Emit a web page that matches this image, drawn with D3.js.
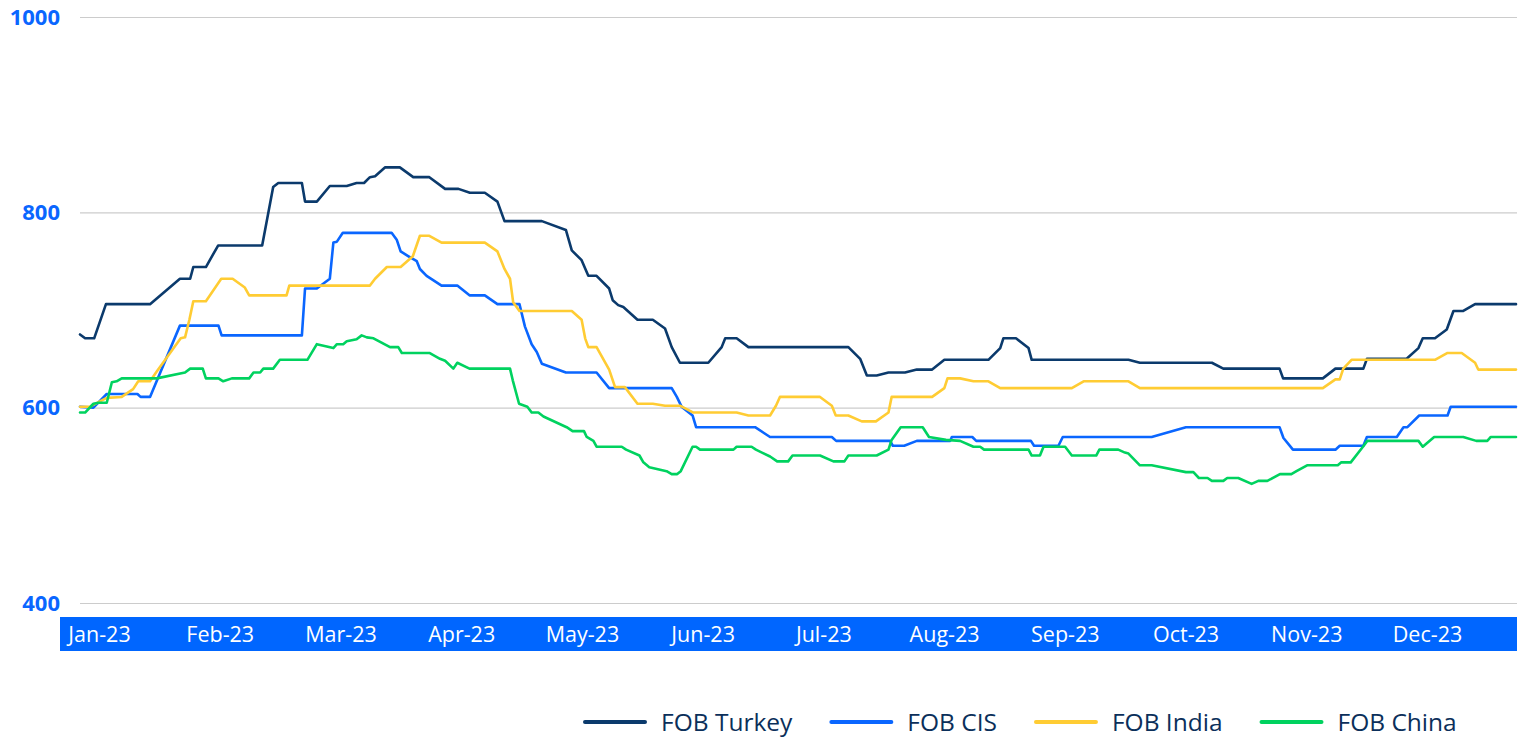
<!DOCTYPE html>
<html>
<head>
<meta charset="utf-8">
<script src="https://cdn.jsdelivr.net/npm/d3@7"></script>
<style>
  html, body { margin: 0; padding: 0; background: #ffffff; }
  svg { display: block; font-family: "Open Sans", Lato, sans-serif; }
</style>
</head>
<body>
<svg id="chart" width="1526" height="737"></svg>
<script>
// ---------- DATA ----------
const months = ["Jan-23","Feb-23","Mar-23","Apr-23","May-23","Jun-23","Jul-23","Aug-23","Sep-23","Oct-23","Nov-23","Dec-23"];
const yTicks = [400, 600, 800, 1000];
const seriesNames = ["FOB Turkey", "FOB CIS", "FOB India", "FOB China"];

// [day of year (0 = 1 Jan 2023), price]
const turkey = [[0,675],[1.3,671],[3.6,671],[6.6,706],[17.8,706],[25.4,732],[28,732],[28.8,744],[32,744],[35.1,766],[46.3,766],[49.1,826],[50.4,830],[56.4,830],[57.2,811],[60.2,811],[63.5,827],[67.8,827],[70.3,830],[72.2,830],[73.7,836],[75,837],[77.5,846],[81.3,846],[84.7,836],[88.8,836],[92.8,824],[96.2,824],[99.1,820],[102.9,820],[106.1,811],[107.9,791],[117.4,791],[123.5,782],[125,761],[127.5,751],[129.2,735],[131.3,735],[134.5,722],[135.4,710],[136.8,705],[138.1,703],[141.7,690],[145.6,690],[148.7,681],[150.4,662],[152.5,646],[159.7,646],[163.1,662],[164,671],[166.9,671],[169.9,662],[195.3,662],[198.3,650],[200,633],[202.5,633],[205.5,636],[209.7,636],[212.7,639],[216.6,639],[219.7,649],[230.9,649],[233.9,661],[234.7,671],[237.9,671],[241.1,661],[241.9,649],[266.5,649],[269.4,646],[287.7,646],[290.6,640],[304.9,640],[305.8,630],[315.9,630],[319.1,640],[326.2,640],[327.1,650],[337.2,650],[340.2,661],[341.3,671],[344.4,671],[347.4,680],[349.1,699],[351.6,699],[354.6,706],[365,706]];

const cis = [[0,601],[3.4,600],[6.8,614],[14.6,614],[15.4,611],[17.8,611],[25.4,684],[35.2,684],[36,674],[56.4,674],[57.2,722],[60.2,722],[63.5,732],[64.4,769],[65.3,770],[66.8,779],[79.2,779],[80.5,772],[81.5,760],[83.5,755],[85.6,750],[86.4,742],[88.1,735],[91.9,725],[95.9,725],[99,715],[102.9,715],[106.1,706],[111.7,706],[113.1,683],[114.8,665],[116.1,657],[117.4,645],[123.5,636],[131.3,636],[134.5,620],[150.4,620],[151.7,611],[152.9,601],[155.7,592],[156.6,580],[171.6,580],[175.4,570],[191.1,570],[192.2,566],[205.9,566],[206.6,561],[209.5,561],[212.7,566],[221.2,566],[221.6,570],[226.8,570],[227.8,566],[241.7,566],[242.5,561],[248.7,561],[249.8,570],[272.4,570],[281.1,580],[304.9,580],[305.9,569],[308.3,557],[319.1,557],[320.2,561],[326.2,561],[327.1,570],[334.7,570],[336.4,580],[337.4,580],[340.4,592],[347.6,592],[348.4,601],[365,601]];

const india = [[0,601],[2.5,601],[6.8,610],[10.6,611],[13.5,619],[14.8,627],[17.8,627],[19.5,637],[25.6,671],[26.7,672],[27.8,690],[28.8,709],[32,709],[35.9,732],[38.8,732],[41.9,723],[43,715],[52.5,715],[53.2,725],[73.7,725],[75,732],[78,744],[81.5,744],[84.6,755],[86.4,776],[88.8,776],[91.9,769],[102.9,769],[106.1,760],[107.9,742],[109.3,732],[110.1,708],[111.7,699],[125,699],[127.5,690],[128.4,671],[129.2,662],[131.3,662],[134.5,639],[136,621],[138.5,621],[141.7,604],[145.6,604],[148.7,602],[152.5,602],[155.9,595],[166.9,595],[169.9,592],[175.4,592],[176.9,602],[177.9,611],[188.1,611],[191.1,602],[192.1,592],[195.3,592],[198.7,586],[202.3,586],[205.5,595],[206.3,611],[216.6,611],[219.7,620],[220.5,630],[223.7,630],[227.1,627],[230.9,627],[233.9,620],[252.1,620],[255.1,627],[266.5,627],[269.4,620],[315.9,620],[319.1,629],[320.2,629],[321.1,640],[323.2,649],[344.4,649],[347.6,656],[351.2,656],[354.6,646],[355.4,639],[365,639]];

const china = [[0,595],[1.3,595],[3.4,604],[4.7,605],[6.8,605],[8.1,626],[9.3,627],[10.6,630],[19.5,630],[26.7,636],[28,640],[31.2,640],[32,630],[35.2,630],[36.4,627],[38.6,630],[43,630],[44.1,636],[45.8,636],[46.6,640],[49.1,640],[50.8,649],[57.8,649],[60.2,665],[64.4,661],[65.3,665],[66.9,665],[67.8,668],[70.3,670],[71.6,674],[72.9,672],[74.6,671],[78.8,662],[80.9,662],[81.8,656],[88.8,656],[91.5,650],[92.8,648],[94.9,640],[95.9,646],[99,640],[109.3,640],[110,628],[111.6,604],[113.7,601],[114.8,595],[116.5,595],[117.8,591],[123.7,580],[125.2,576],[128.1,576],[128.8,570],[130.5,566],[131.3,560],[137.7,560],[138.8,557],[142.2,551],[143.2,544],[144.7,539],[149.1,535],[150.4,532],[151.8,532],[152.7,535],[155.7,560],[156.6,560],[157.6,557],[166.1,557],[166.9,560],[170.7,560],[171.8,557],[175.4,550],[177.2,545],[180,545],[181.1,551],[188.1,551],[191.5,545],[194.3,545],[195.3,551],[202.5,551],[205.5,557],[206.3,567],[208.6,580],[214.2,580],[215.8,570],[220.1,567],[223.7,566],[227.1,560],[228.8,560],[229.8,557],[241.1,557],[241.9,551],[244,551],[244.9,560],[250.4,560],[252.1,551],[258.3,551],[259.1,557],[263.9,557],[265.6,554],[266.5,553],[269.4,541],[272.4,541],[281.1,534],[283,534],[284.4,528],[286.6,528],[287.7,525],[290.6,525],[291.6,528],[294.4,528],[297.8,522],[299.5,525],[301.8,525],[305,532],[307.9,532],[309.2,535],[311.9,541],[319.7,541],[320.6,544],[323,544],[326.1,560],[327.2,566],[340.2,566],[341.3,560],[344.2,570],[351.6,570],[354.9,566],[357.7,566],[358.6,570],[365,570]];

const colors = ["#0b3a6c", "#0a66ff", "#ffcc33", "#00d25f"];

// ---------- CHART ----------
const svg = d3.select("#chart");
const start = new Date(2023, 0, 1);
const dayToDate = d => new Date(start.getTime() + d * 864e5);

const x = d3.scaleTime().domain([start, dayToDate(365)]).range([80, 1516]);
const y = d3.scaleLinear().domain([400, 1000]).range([603, 17]);

// grid + y labels
const yAxis = svg.append("g")
  .attr("transform", "translate(80,0)")
  .call(d3.axisLeft(y).tickValues(yTicks).tickSize(-1437).tickPadding(20).tickFormat(d3.format("d")));
yAxis.select(".domain").remove();
yAxis.selectAll(".tick line").attr("stroke", "#cccccc").attr("stroke-width", 1.2);
yAxis.selectAll(".tick text")
  .attr("fill", "#0a66ff")
  .attr("font-size", 22)
  .attr("font-weight", 700)
  .attr("font-family", "'Open Sans', sans-serif");

// x band
svg.append("rect")
  .attr("x", 60).attr("y", 617)
  .attr("width", 1457).attr("height", 34)
  .attr("fill", "#0066ff");

const xm = d3.scalePoint().domain(months).range([99, 1427]);
const xAxis = svg.append("g")
  .attr("transform", "translate(0,634)")
  .call(d3.axisBottom(xm).tickSize(0).tickPadding(0));
xAxis.select(".domain").remove();
xAxis.selectAll(".tick text")
  .attr("y", 0).attr("dy", "0.36em")
  .attr("fill", "#ffffff")
  .attr("font-size", 21.5)
  .attr("font-family", "'Open Sans', sans-serif");

// lines
const line = d3.line()
  .x(d => x(dayToDate(d[0])))
  .y(d => y(d[1]));

[turkey, cis, india, china].forEach((s, i) => {
  svg.append("path")
    .datum(s)
    .attr("fill", "none")
    .attr("stroke", colors[i])
    .attr("stroke-width", 2.6)
    .attr("stroke-linejoin", "round")
    .attr("stroke-linecap", "round")
    .attr("d", line);
});

// legend
const legend = svg.append("g").attr("transform", "translate(0,722)");
let lx = 585;
seriesNames.forEach((name, i) => {
  const g = legend.append("g").attr("transform", `translate(${lx},0)`);
  g.append("line")
    .attr("x1", 0).attr("x2", 60).attr("y1", 0).attr("y2", 0)
    .attr("stroke", colors[i]).attr("stroke-width", 4).attr("stroke-linecap", "round");
  const t = g.append("text")
    .attr("x", 76).attr("y", 0).attr("dy", "0.35em")
    .attr("fill", "#0b2f5a")
    .attr("font-size", 24.5)
    .attr("font-family", "'Open Sans', sans-serif")
    .text(name);
  lx += 76 + t.node().getComputedTextLength() + 39;
});
</script>
</body>
</html>
